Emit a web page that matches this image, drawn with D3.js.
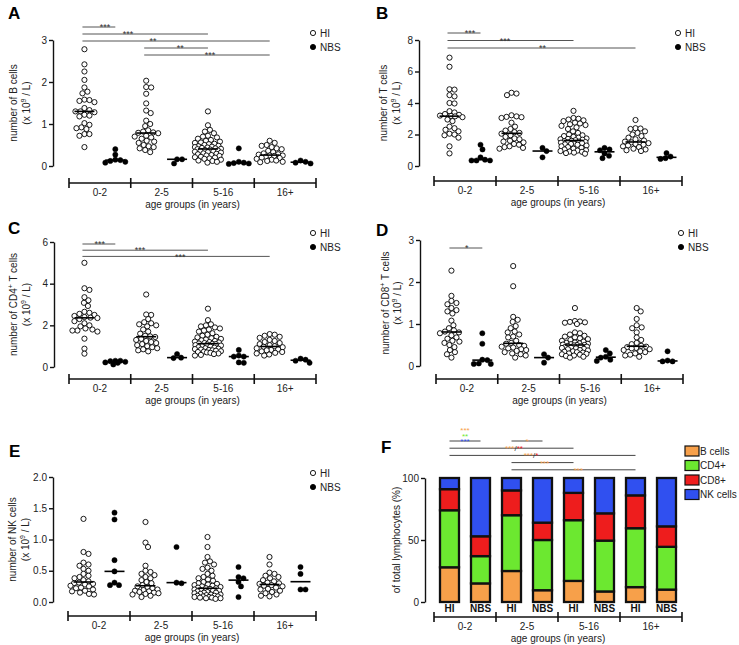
<!DOCTYPE html>
<html><head><meta charset="utf-8">
<script src="https://cdn.jsdelivr.net/npm/d3@7"></script>
<style>
body{margin:0;background:#fff;}
svg{display:block;font-family:"Liberation Sans",Arial,sans-serif;}
</style></head><body>
<svg id="c" width="739" height="645"></svg>
<script>
// ---------------- DATA ----------------
const ageGroups = ["0-2","2-5","5-16","16+"];
const cohorts = ["HI","NBS"];

// A: B cells (x10^9/L)
const bCellsHI = [
 [2.78,2.42,2.25,2.05,1.87,1.77,1.73,1.58,1.57,1.55,1.52,1.38,1.33,1.30,1.30,1.28,1.22,1.20,1.18,1.02,0.98,0.92,0.90,0.88,0.76,0.76,0.72,0.45],
 [2.03,1.88,1.87,1.72,1.49,1.32,1.26,1.08,1.00,0.95,0.85,0.82,0.80,0.79,0.78,0.72,0.70,0.68,0.65,0.60,0.58,0.55,0.50,0.47,0.45,0.42,0.38,0.33],
 [1.30,0.97,0.86,0.82,0.78,0.72,0.70,0.68,0.65,0.62,0.60,0.58,0.56,0.55,0.53,0.52,0.50,0.48,0.47,0.46,0.45,0.44,0.43,0.42,0.41,0.40,0.39,0.38,0.37,0.36,0.35,0.34,0.33,0.32,0.30,0.29,0.28,0.26,0.25,0.24,0.22,0.21,0.20,0.18,0.17,0.15,0.13,0.12,0.10,0.08],
 [0.60,0.55,0.50,0.48,0.45,0.42,0.40,0.36,0.33,0.30,0.28,0.27,0.25,0.25,0.24,0.22,0.20,0.19,0.17,0.15,0.13,0.12,0.10,0.09]
];
const bCellsNBS = [
 [0.40,0.27,0.15,0.14,0.12,0.10,0.08],
 [0.16,0.16,0.06],
 [0.42,0.10,0.08,0.07,0.06,0.05],
 [0.13,0.10,0.08,0.06]
];

// B: T cells
const tCellsHI = [
 [6.88,6.30,4.87,4.85,4.50,4.42,4.00,3.97,3.48,3.40,3.30,3.25,3.20,3.18,3.15,3.10,2.95,2.85,2.50,2.40,2.30,2.20,2.05,2.00,1.95,1.80,1.25,0.80],
 [4.65,4.60,4.50,3.22,3.15,3.12,3.10,3.05,2.75,2.50,2.35,2.25,2.15,2.10,2.05,1.95,1.85,1.75,1.70,1.60,1.55,1.50,1.40,1.35,1.25,1.20,1.15,1.10],
 [3.50,3.05,3.00,2.95,2.90,2.85,2.75,2.70,2.65,2.60,2.55,2.45,2.35,2.20,2.10,2.00,1.95,1.90,1.85,1.80,1.75,1.72,1.70,1.67,1.64,1.60,1.58,1.55,1.52,1.50,1.48,1.45,1.42,1.40,1.38,1.35,1.30,1.25,1.20,1.15,1.10,1.05,1.00,0.98,0.95,0.92,0.90,0.85,0.82,0.78],
 [2.92,2.40,2.38,2.35,2.20,2.10,2.00,1.90,1.80,1.70,1.62,1.55,1.50,1.48,1.45,1.40,1.35,1.30,1.25,1.20,1.10,1.05,1.00,0.95]
];
const tCellsNBS = [
 [1.35,1.05,0.55,0.40,0.35,0.35,0.35],
 [1.15,0.95,0.55],
 [1.15,1.05,1.00,0.80,0.65,0.50],
 [0.82,0.60,0.50,0.45]
];

// C: CD4+ T cells
const cd4HI = [
 [5.00,3.78,3.70,3.35,3.20,3.08,2.93,2.65,2.60,2.55,2.50,2.45,2.40,2.37,2.35,2.30,2.20,2.10,2.00,1.95,1.85,1.80,1.75,1.75,1.70,1.36,0.88,0.64],
 [3.48,2.52,2.50,2.30,2.15,2.10,2.05,2.00,1.95,1.80,1.70,1.60,1.50,1.47,1.44,1.35,1.30,1.25,1.20,1.15,1.10,1.05,1.00,0.95,0.90,0.85,0.80,0.75],
 [2.80,2.25,2.05,2.00,1.95,1.90,1.85,1.80,1.75,1.70,1.62,1.55,1.50,1.45,1.42,1.38,1.35,1.32,1.28,1.25,1.22,1.20,1.18,1.15,1.13,1.11,1.10,1.08,1.05,1.03,1.00,0.98,0.95,0.93,0.90,0.88,0.86,0.84,0.82,0.80,0.78,0.76,0.74,0.72,0.70,0.68,0.65,0.62,0.58,0.55],
 [1.58,1.55,1.50,1.45,1.40,1.30,1.25,1.20,1.15,1.10,1.05,1.00,0.97,0.95,0.90,0.85,0.82,0.80,0.75,0.72,0.68,0.65,0.60,0.55]
];
const cd4NBS = [
 [0.30,0.30,0.28,0.25,0.22,0.20,0.12],
 [0.62,0.45,0.43],
 [0.82,0.55,0.50,0.50,0.22,0.20],
 [0.40,0.35,0.30,0.20]
];

// D: CD8+ T cells
const cd8HI = [
 [2.27,1.67,1.55,1.50,1.47,1.38,1.33,1.30,1.25,1.08,0.97,0.90,0.85,0.82,0.80,0.78,0.73,0.68,0.65,0.60,0.58,0.55,0.50,0.45,0.38,0.33,0.28,0.20],
 [2.38,1.90,1.17,1.10,1.05,0.95,0.90,0.82,0.80,0.75,0.70,0.68,0.60,0.55,0.53,0.50,0.48,0.46,0.44,0.42,0.40,0.38,0.36,0.33,0.30,0.28,0.25,0.20],
 [1.38,1.07,1.06,1.05,1.04,1.03,1.00,0.80,0.78,0.75,0.72,0.70,0.68,0.66,0.64,0.62,0.60,0.58,0.56,0.55,0.54,0.53,0.52,0.51,0.50,0.50,0.49,0.48,0.47,0.46,0.45,0.44,0.43,0.42,0.41,0.40,0.38,0.37,0.35,0.34,0.33,0.32,0.30,0.29,0.28,0.27,0.25,0.24,0.22,0.20],
 [1.38,1.30,1.12,0.97,0.92,0.90,0.80,0.68,0.62,0.55,0.52,0.48,0.46,0.45,0.43,0.42,0.40,0.38,0.35,0.33,0.30,0.27,0.25,0.22]
];
const cd8NBS = [
 [0.78,0.53,0.15,0.14,0.06,0.05,0.05],
 [0.28,0.20,0.08],
 [0.38,0.30,0.22,0.20,0.15,0.12],
 [0.35,0.13,0.11,0.11]
];

// E: NK cells
const nkHI = [
 [1.33,0.80,0.77,0.63,0.60,0.58,0.53,0.50,0.45,0.42,0.40,0.38,0.35,0.33,0.31,0.30,0.29,0.28,0.26,0.25,0.23,0.22,0.20,0.18,0.17,0.15,0.13,0.12],
 [1.28,0.95,0.88,0.58,0.50,0.48,0.45,0.43,0.40,0.38,0.35,0.32,0.30,0.27,0.25,0.24,0.22,0.20,0.19,0.18,0.17,0.16,0.15,0.14,0.13,0.12,0.10,0.08],
 [1.04,0.88,0.72,0.65,0.63,0.60,0.55,0.53,0.50,0.45,0.42,0.40,0.38,0.36,0.34,0.32,0.30,0.29,0.28,0.27,0.26,0.25,0.24,0.23,0.22,0.22,0.21,0.20,0.19,0.18,0.18,0.17,0.16,0.15,0.15,0.14,0.13,0.12,0.12,0.11,0.10,0.10,0.09,0.09,0.08,0.08,0.07,0.07,0.06,0.06,0.05],
 [0.72,0.60,0.47,0.45,0.42,0.40,0.38,0.35,0.33,0.31,0.30,0.29,0.27,0.26,0.25,0.23,0.21,0.20,0.18,0.16,0.14,0.12,0.10,0.09]
];
const nkNBS = [
 [1.43,1.32,0.67,0.49,0.31,0.27,0.27],
 [0.88,0.31,0.30],
 [0.56,0.40,0.38,0.32,0.25,0.08],
 [0.56,0.45,0.20,0.20]
];

// F: % of total lymphocytes (bars: HI 0-2, NBS 0-2, HI 2-5, ...)
const lymphSeries = ["B cells","CD4+","CD8+","NK cells"];
const pctB   = [28, 15, 25, 9.5, 17, 8.5, 12, 10];
const pctCD4 = [46, 22, 45, 40.5, 49, 41, 47.5, 34.5];
const pctCD8 = [17, 16, 20, 14, 22, 22, 26.5, 16.5];
const pctNK  = [9, 47, 10, 36, 12, 28.5, 14, 39];

// tick values
const ticksA = [0,1,2,3];
const ticksB = [0,2,4,6,8];
const ticksC = [0,2,4,6];
const ticksD = [0,1,2,3];
const ticksE = [0,0.5,1,1.5,2];
const ticksF = [0,50,100];

// significance bars: [from position, to position, label]; position = group*2 + cohort
const sigA = [[0,1,"***"],[0,4,"***"],[0,6,"**"],[2,4,"**"],[2,6,"***"]];
const sigB = [[0,1,"***"],[0,4,"***"],[0,6,"**"]];
const sigC = [[0,1,"***"],[0,4,"***"],[0,6,"***"]];
const sigD = [[0,1,"*"]];
const sigE = [];
const sigF = [
  {from:0,to:1,level:0,rows:[[["B cells","***"]],[["CD4+","**"]],[["NK cells","***"]]]},
  {from:2,to:3,level:0,rows:[[["B cells","*"]]]},
  {from:0,to:4,level:1,rows:[[["B cells","***"],[null,"/"],["CD8+","**"]]]},
  {from:0,to:6,level:2,rows:[[["B cells","***"],[null,"/"],["CD8+","*"]]]},
  {from:2,to:4,level:3,rows:[[["B cells","***"]]]},
  {from:2,to:6,level:4,rows:[[["B cells","***"]]]}
];

// ---------------- LAYOUT ----------------
const svg = d3.select("#c");
const INK = "#111";
const color = d3.scaleOrdinal().domain(lymphSeries).range(["#F7A04A","#6CE830","#EE1D1D","#3050F0"]);

function yAxis(g, y, ax, ticks, fmt){
  const a = g.append("g").attr("transform",`translate(${ax},0)`)
    .call(d3.axisLeft(y).tickValues(ticks).tickFormat(fmt).tickSize(4).tickSizeOuter(0).tickPadding(2));
  a.attr("font-family",null).attr("font-size",null);
  a.select(".domain").attr("stroke",INK).attr("stroke-width",1.4);
  a.selectAll(".tick line").attr("stroke",INK).attr("stroke-width",1.4);
  a.selectAll(".tick text").attr("font-size",10).attr("fill","#222");
}
function yLabel(g, lines, xs, yc){
  lines.forEach((parts,i)=>{
    const t = g.append("text").attr("transform",`translate(${xs[i]},${yc}) rotate(-90)`)
      .attr("text-anchor","middle").attr("dy","0.35em").attr("font-size",10).attr("fill","#222");
    parts.forEach(p=>{
      const s = t.append("tspan").text(p.t);
      if(p.sup){ s.attr("font-size",7).attr("dy",-4); }
      if(p.after){ s.attr("dy",4); }
    });
  });
}
function bracket(g, x, by){
  const edges = [0,2,4,6].map(i=>x(i)); edges.push(x.range()[1]);
  g.append("line").attr("x1",edges[0]).attr("x2",edges[4]).attr("y1",by).attr("y2",by)
    .attr("stroke",INK).attr("stroke-width",1.6);
  g.selectAll(null).data(edges).join("line").attr("x1",d=>d).attr("x2",d=>d)
    .attr("y1",by-5).attr("y2",by+5).attr("stroke",INK).attr("stroke-width",1.6);
  g.selectAll(null).data(ageGroups).join("text")
    .attr("x",(d,i)=>(edges[i]+edges[i+1])/2).attr("y",by+12.5)
    .attr("text-anchor","middle").attr("font-size",10).attr("fill","#222").text(d=>d);
  g.append("text").attr("x",(edges[0]+edges[4])/2).attr("y",by+24.5)
    .attr("text-anchor","middle").attr("font-size",10).attr("fill","#222").text("age groups (in years)");
}
function letter(g, s, p){
  g.append("text").attr("x",p[0]).attr("y",p[1]).attr("font-size",17).attr("font-weight","bold").attr("fill","#000").text(s);
}
function swarm(vals, cx, y, minD, maxOff){
  const pts = vals.map(v=>({v, py:y(v)})).sort((a,b)=>a.py-b.py);
  const placed = [];
  const cands = [];
  for(let o=0;o<=maxOff;o+=0.5){ cands.push(o); if(o>0) cands.push(-o); }
  pts.forEach(p=>{
    let chosen=null, best=-1, bestO=0;
    for(const o of cands){
      let md=Infinity;
      for(const q of placed){ const d=Math.hypot(q.px-(cx+o), q.py-p.py); if(d<md) md=d; }
      if(md>=minD){ chosen=o; break; }
      if(md>best){ best=md; bestO=o; }
    }
    p.px = cx + (chosen!==null?chosen:bestO);
    placed.push(p);
  });
  return pts;
}

function scatterPanel(P){
  const g = svg.append("g");
  const L = P.L;
  const y = d3.scaleLinear().domain([0,P.yMax]).range([L.yBot,L.yTop]);
  const x = d3.scaleBand().domain(d3.range(8)).range(L.bx);
  const cx = i => x(i)+x.bandwidth()/2;
  letter(g, P.letter, L.letter);
  yAxis(g, y, L.axisX, P.ticks, P.fmt);
  yLabel(g, P.ylab, L.ylabX, (L.yTop+L.yBot)/2);
  bracket(g, x, L.bracketY);
  // significance
  P.sig.forEach((s,i)=>{
    const ly = L.sigTop + i*L.sigStep;
    g.append("line").attr("x1",cx(s[0])-2).attr("x2",cx(s[1])).attr("y1",ly).attr("y2",ly)
      .attr("stroke","#555").attr("stroke-width",1);
    g.append("text").attr("x",cx(0)+L.sigLabelAt[i]*x.step()).attr("y",ly+3.2).attr("text-anchor","middle")
      .attr("font-size",9).attr("fill","#333").text(s[2]);
  });
  // points
  ageGroups.forEach((ag,gi)=>{
    cohorts.forEach((c,ci)=>{
      const vals = (ci===0?P.hi:P.nbs)[gi];
      const pos = gi*2+ci;
      const pts = swarm(vals, cx(pos), y, 5.0, 13);
      g.selectAll(null).data(pts).join("circle")
        .attr("cx",d=>d.px).attr("cy",d=>d.py).attr("r",2.6)
        .attr("fill",ci===0?"#fff":"#000").attr("stroke","#000").attr("stroke-width",ci===0?0.9:0.5);
      const m = d3.median(vals);
      g.append("line").attr("x1",cx(pos)-10).attr("x2",cx(pos)+10).attr("y1",y(m)).attr("y2",y(m))
        .attr("stroke","#000").attr("stroke-width",1.6);
    });
  });
  // legend
  cohorts.forEach((c,i)=>{
    const ly = L.legend[1]+i*14;
    g.append("circle").attr("cx",L.legend[0]).attr("cy",ly).attr("r",2.6)
      .attr("fill",i===0?"#fff":"#000").attr("stroke","#000").attr("stroke-width",0.9);
    g.append("text").attr("x",L.legend[0]+7).attr("y",ly+3.6).attr("font-size",10).attr("fill","#222").text(c);
  });
}

const unitLine = [{t:"(x 10"},{t:"9",sup:true},{t:" / L)",after:true}];
const fmtInt = d3.format("d"), fmt1 = d3.format(".1f");

scatterPanel({letter:"A", hi:bCellsHI, nbs:bCellsNBS, yMax:3, ticks:ticksA, fmt:fmtInt, sig:sigA,
  ylab:[[{t:"number of B cells"}], unitLine],
  L:{letter:[8,19], axisX:53, yTop:40, yBot:166, bx:[69,316], bracketY:183, legend:[313,33], sigTop:27, sigStep:7, sigLabelAt:[0.67,1.41,2.22,3.1,4.07], ylabX:[13,26]}});
scatterPanel({letter:"B", hi:tCellsHI, nbs:tCellsNBS, yMax:8, ticks:ticksB, fmt:fmtInt, sig:sigB,
  ylab:[[{t:"number of T cells"}], unitLine],
  L:{letter:[376,19], axisX:419, yTop:40, yBot:166, bx:[434,682], bracketY:181, legend:[678,33], sigTop:33, sigStep:7.5, sigLabelAt:[0.66,1.79,3.0], ylabX:[383,396]}});
scatterPanel({letter:"C", hi:cd4HI, nbs:cd4NBS, yMax:6, ticks:ticksC, fmt:fmtInt, sig:sigC,
  ylab:[[{t:"number of CD4"},{t:"+",sup:true},{t:" T cells",after:true}], unitLine],
  L:{letter:[8,234], axisX:54, yTop:242, yBot:367, bx:[69,316], bracketY:379, legend:[313,233], sigTop:244, sigStep:6.2, sigLabelAt:[0.5,1.8,3.1], ylabX:[13,26]}});
scatterPanel({letter:"D", hi:cd8HI, nbs:cd8NBS, yMax:3, ticks:ticksD, fmt:fmtInt, sig:sigD,
  ylab:[[{t:"number of CD8"},{t:"+",sup:true},{t:" T cells",after:true}], unitLine],
  L:{letter:[376,236], axisX:420, yTop:240, yBot:366, bx:[436,683], bracketY:379, legend:[681,233], sigTop:248, sigStep:7, sigLabelAt:[0.5], ylabX:[385,397]}});
scatterPanel({letter:"E", hi:nkHI, nbs:nkNBS, yMax:2, ticks:ticksE, fmt:fmt1, sig:sigE,
  ylab:[[{t:"number of NK cells"}], unitLine],
  L:{letter:[9,457], axisX:53, yTop:477, yBot:602, bx:[68,316], bracketY:616, legend:[313,473], sigTop:470, sigStep:7, sigLabelAt:[], ylabX:[12,25]}});

// ---------------- PANEL F ----------------
(function(){
  const g = svg.append("g");
  const L = {letter:[381,453], axisX:425, yTop:478, yBot:602, bx:[434,682], bracketY:617, sigTop:441, sigStep:7.2,
             sigLabelAt:[0.5,2.5,2.08,2.63,3.06,4.15], legend:[685,451]};
  const y = d3.scaleLinear().domain([0,100]).range([L.yBot,L.yTop]);
  const x = d3.scaleBand().domain(d3.range(8)).range(L.bx);
  const cx = i => x(i)+x.bandwidth()/2;
  letter(g,"F",L.letter);
  yAxis(g, y, L.axisX, ticksF, fmtInt);
  yLabel(g, [[{t:"of total lymphocytes (%)"}]], [396], (L.yTop+L.yBot)/2);
  bracket(g, x, L.bracketY);
  const rows = d3.range(8).map(i=>({i, "B cells":pctB[i], "CD4+":pctCD4[i], "CD8+":pctCD8[i], "NK cells":pctNK[i]}));
  const stacked = d3.stack().keys(lymphSeries)(rows);
  const bw = 19;
  stacked.forEach(layer=>{
    g.selectAll(null).data(layer).join("rect")
      .attr("x",d=>cx(d.data.i)-bw/2).attr("width",bw)
      .attr("y",d=>y(d[1])).attr("height",d=>y(d[0])-y(d[1]))
      .attr("fill",color(layer.key)).attr("stroke","#111").attr("stroke-width",2.3);
  });
  // HI / NBS labels
  g.selectAll(null).data(d3.range(8)).join("text")
    .attr("x",d=>cx(d)).attr("y",612).attr("text-anchor","middle")
    .attr("font-size",10).attr("font-weight","bold").attr("fill","#111").text(d=>cohorts[d%2]);
  // significance
  sigF.forEach((s,si)=>{
    const ly = L.sigTop + s.level*L.sigStep;
    g.append("line").attr("x1",cx(s.from)).attr("x2",cx(s.to)).attr("y1",ly).attr("y2",ly)
      .attr("stroke","#444").attr("stroke-width",1);
    const n = s.rows.length;
    const lx = cx(0)+L.sigLabelAt[si]*x.step();
    const t = g.append("text").attr("text-anchor","middle").attr("font-size",8);
    s.rows.forEach((row,r)=>{
      row.forEach((part,pi)=>{
        const ts = t.append("tspan").attr("fill",part[0]?color(part[0]):"#333").text(part[1]);
        if(pi===0) ts.attr("x",lx).attr("y",ly+3-(n-1-r)*5.5);
      });
    });
  });
  // legend
  lymphSeries.forEach((k,i)=>{
    const ly = L.legend[1]+i*14.5;
    g.append("rect").attr("x",L.legend[0]).attr("y",ly-5).attr("width",14).attr("height",10)
      .attr("fill",color(k)).attr("stroke","#111").attr("stroke-width",1.2);
    g.append("text").attr("x",L.legend[0]+15).attr("y",ly+3.6).attr("font-size",10).attr("fill","#222").text(k);
  });
})();
</script></body></html>
